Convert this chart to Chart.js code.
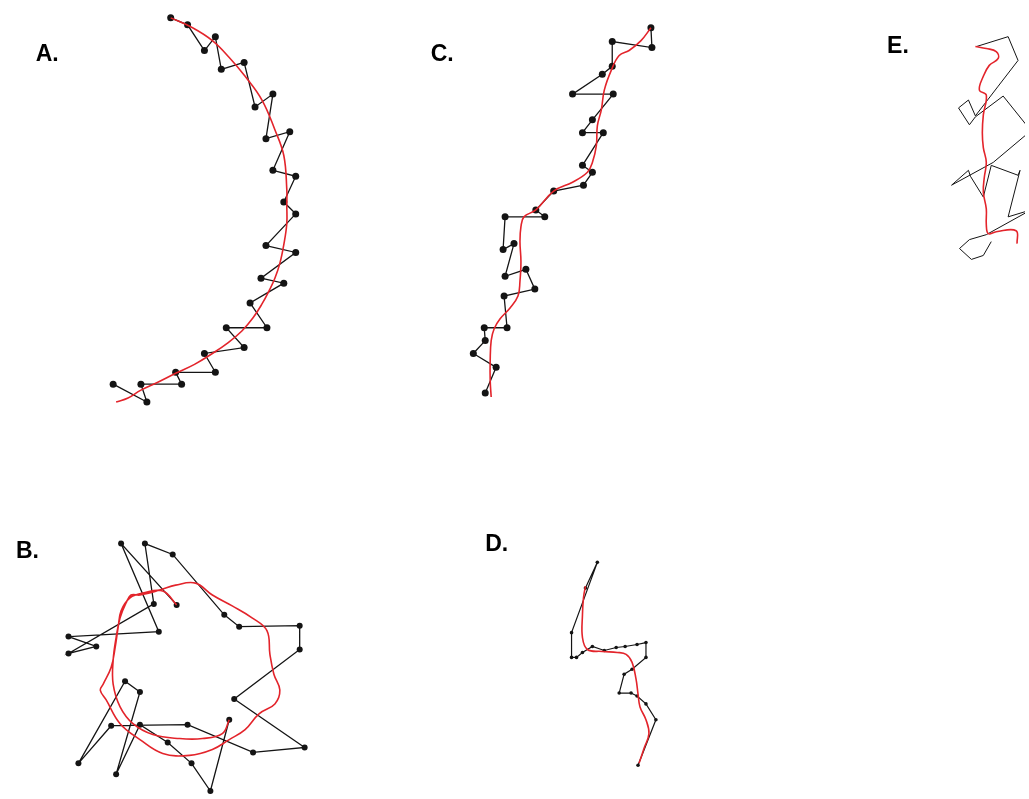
<!DOCTYPE html>
<html>
<head>
<meta charset="utf-8">
<script src="https://cdn.jsdelivr.net/npm/chart.js@4.4.1/dist/chart.umd.min.js"></script>
<style>
  html, body { margin: 0; padding: 0; background: #fff; }
  #wrap { width: 1029px; height: 799px; }
</style>
</head>
<body>
<div id="wrap"><canvas id="paths" width="1029" height="799"></canvas></div>
<script>
// panel letters
const panelLetters = ['A.', 'B.', 'C.', 'D.', 'E.'];

// raw tracks (black) and smoothed tracks (red)
const trackA = [[168,14],[185,21],[202,47],[213,33],[219,66],[242,59],[253,104],[271,91],[264,136],[288,129],[271,168],[294,174],[282,200],[294,212],[264,244],[294,251],[259,277],[282,282],[248,302],[265,327],[224,327],[242,347],[202,353],[213,372],[173,372],[179,384],[138,384],[144,402],[110,384]];
const smoothA = [[113,402],[125,398],[138,390],[155,382],[173,373],[192,364],[210,353],[226,342],[240,330],[251,317],[260,303],[267,290],[273,277],[278,262],[282,243],[285,222],[285,203],[285,187],[282,153],[273,127],[260,97],[243,73],[227,54],[210,37],[190,24],[168,14]];

const trackB = [[227,723],[208,795],[189,767],[165,746],[137,728],[113,778],[137,695],[122,684],[75,767],[108,729],[185,728],[251,756],[303,751],[232,702],[298,652],[298,628],[237,629],[222,617],[170,556],[142,545],[151,606],[65,656],[93,649],[65,639],[156,634],[118,545],[174,607]];
const smoothB = [[174,607],[160,593],[140,595],[127,600],[118,613],[115,630],[112,650],[108,670],[100,687],[97,693],[103,703],[117,727],[137,743],[160,757],[187,759],[210,753],[227,743],[243,733],[257,717],[273,707],[278,693],[272,677],[268,657],[265,633],[250,620],[230,608],[210,597],[193,585],[173,587],[157,592],[137,597],[128,597],[123,605],[117,620],[113,640],[110,663],[110,687],[117,710],[130,727],[150,738],[177,742],[200,742],[220,737],[227,723]];

const trackC = [[652,24],[653,44],[613,38],[613,63],[603,71],[573,91],[614,91],[593,117],[583,130],[604,130],[583,163],[593,170],[584,183],[554,189],[536,208],[545,215],[505,215],[503,248],[514,242],[505,275],[526,268],[535,288],[504,295],[507,327],[484,327],[485,340],[473,353],[496,367],[485,393]];
const smoothC = [[491,397],[490,380],[490,360],[491,340],[494,328],[500,318],[510,307],[518,295],[520,280],[521,260],[520,240],[521,225],[524,215],[536,208],[554,189],[573,180],[588,170],[593,160],[597,143],[598,123],[602,107],[605,87],[612,67],[620,52],[630,47],[642,37],[652,24]];

const trackD = [[586,590],[598,564],[572,635],[572,660],[577,660],[583,655],[593,649],[605,653],[617,650],[626,649],[638,647],[647,645],[647,660],[633,672],[625,677],[620,696],[632,696],[638,699],[647,707],[657,723],[639,769]];
const smoothD = [[586,588],[584,600],[583,617],[583,640],[588,652],[603,654],[618,655],[627,657],[633,665],[637,682],[639,697],[641,710],[647,723],[650,737],[645,752],[640,767]];

const trackE = [[980,43],[1012,33],[1022,57],[1002,83],[979,113],[972,97],[962,105],[973,122],[979,114],[1007,93],[1035,128],[997,160],[955,183],[972,168],[974,174],[987,195],[995,163],[1022,173],[1024,168],[1012,215],[1035,208],[990,233],[973,238],[963,247],[975,258],[987,254],[995,240]];
const smoothE = [[979,43],[990,45],[1000,48],[1002,55],[993,62],[987,73],[983,87],[990,92],[987,112],[986,130],[987,145],[990,160],[988,175],[987,190],[990,207],[990,223],[992,232],[1000,230],[1020,229],[1021,242]];

// where the letters sit (page pixels)
const letterAt = [[32,58],[12,560],[430,58],[485,553],[890,50]];

const RED = '#e3242b';
const INK = '#141414';

function pts(list) {
    return list.map(function(p) { return { x: p[0], y: p[1] }; });
}

function smooth(list) {
    return { data: pts(list), showLine: true, borderColor: RED, borderWidth: 1.6, pointRadius: 0, tension: 0.4 };
}

function raw(list, dot, width) {
    return { data: pts(list), showLine: true, borderColor: INK, borderWidth: width, pointRadius: dot,
             pointBackgroundColor: INK, pointBorderWidth: 0, tension: 0 };
}

// letters A. - E.
const letterPlugin = {
    id: 'letters',
    afterDraw: function(chart) {
        const c = chart.ctx;
        const sx = chart.scales.x, sy = chart.scales.y;
        c.save();
        c.fillStyle = '#000';
        c.font = 'bold 23px "Liberation Sans", Arial, sans-serif';
        panelLetters.forEach(function(t, i) {
            c.fillText(t, sx.getPixelForValue(letterAt[i][0]), sy.getPixelForValue(letterAt[i][1]));
        });
        c.restore();
    }
};

const ctx = document.getElementById('paths').getContext('2d');
new Chart(ctx, {
    type: 'scatter',
    data: {
        datasets: [
            smooth(smoothA), smooth(smoothB), smooth(smoothC), smooth(smoothD), smooth(smoothE),
            raw(trackA, 3.5, 1.3), raw(trackB, 3, 1.3), raw(trackC, 3.5, 1.3), raw(trackD, 1.8, 1.2), raw(trackE, 0, 1)
        ]
    },
    options: {
        responsive: false,
        animation: false,
        layout: { padding: 0 },
        plugins: { legend: { display: false }, tooltip: { enabled: false } },
        scales: {
            x: { type: 'linear', min: 0, max: 1029, display: false },
            y: { type: 'linear', min: 0, max: 799, reverse: true, display: false }
        }
    },
    plugins: [letterPlugin]
});
</script>
</body>
</html>
